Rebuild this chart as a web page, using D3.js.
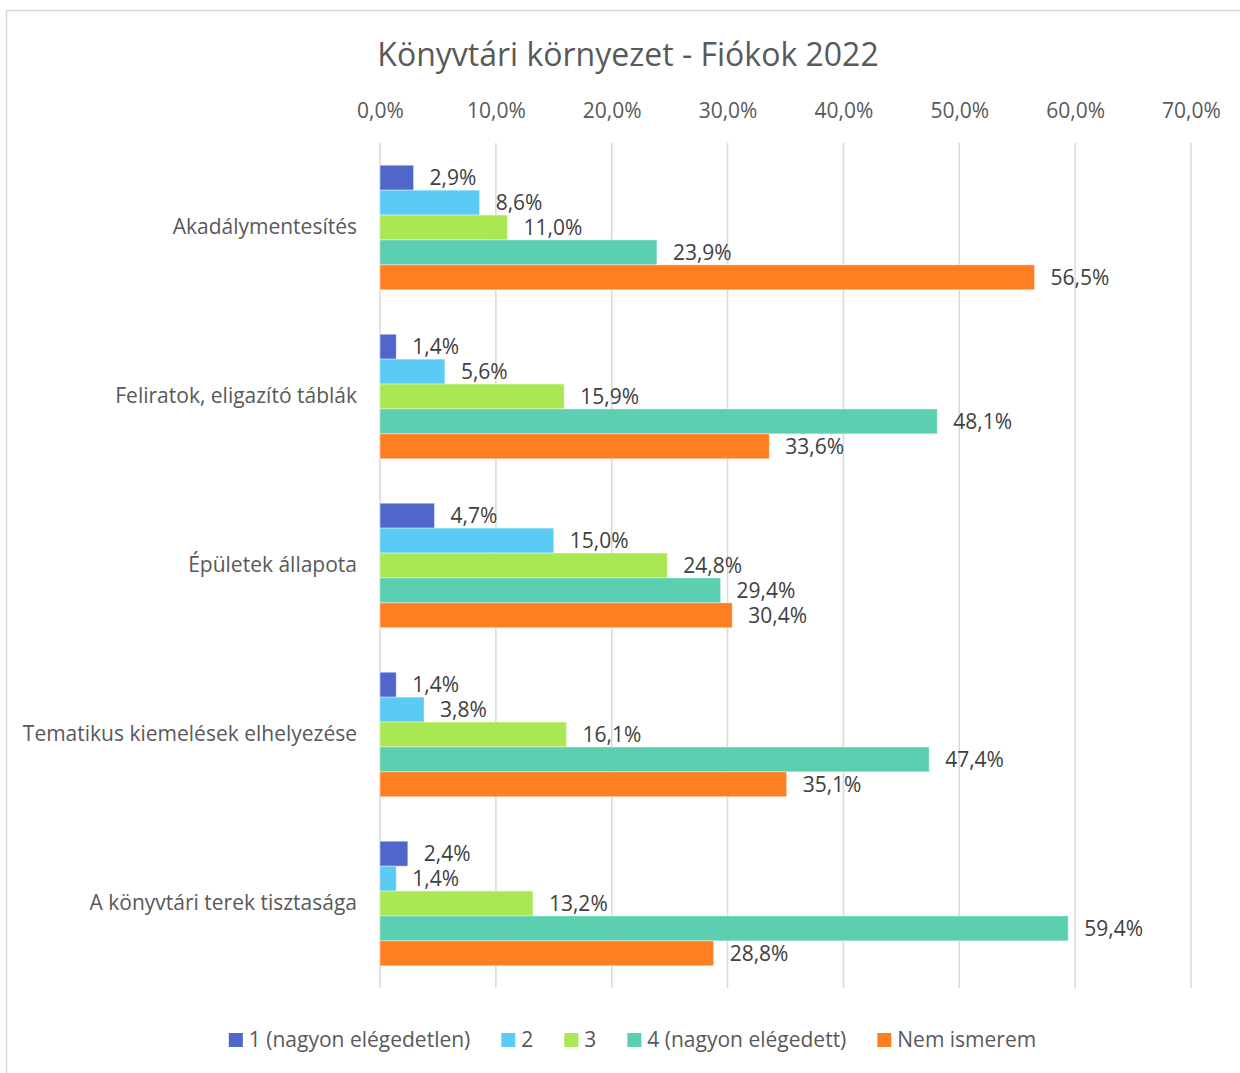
<!DOCTYPE html>
<html>
<head>
<meta charset="utf-8">
<script src="https://cdn.jsdelivr.net/npm/d3@7"></script>
<style>
  body { margin: 0; background: #fff; }
  text { font-family: "Open Sans", "Noto Sans", sans-serif; }
</style>
</head>
<body>
<div id="chart"></div>
<script>
"use strict";

// categories (top to bottom) and series
const categories = [
    "Akadálymentesítés",
    "Feliratok, eligazító táblák",
    "Épületek állapota",
    "Tematikus kiemelések elhelyezése",
    "A könyvtári terek tisztasága"
];
const seriesNames = ["1 (nagyon elégedetlen)", "2", "3", "4 (nagyon elégedett)", "Nem ismerem"];
const seriesColors = ["#4f67cb", "#5bcbf5", "#a9e853", "#5ccfb0", "#fe7f22"];

// values in percent, one array per series, in category order
const s1 = [2.9, 1.4, 4.7, 1.4, 2.4];
const s2 = [8.6, 5.6, 15.0, 3.8, 1.4];
const s3 = [11.0, 15.9, 24.8, 16.1, 13.2];
const s4 = [23.9, 48.1, 29.4, 47.4, 59.4];
const s5 = [56.5, 33.6, 30.4, 35.1, 28.8];
const seriesValues = [s1, s2, s3, s4, s5];

const xTicks = [0, 10, 20, 30, 40, 50, 60, 70];
const title = "Könyvtári környezet - Fiókok 2022";

const msm = {
    width: 1240,
    height: 1073,
    plotLeft: 380,
    plotRight: 1191,
    plotTop: 143,
    plotBottom: 988
};

const huLocale = d3.formatLocale({ decimal: ",", thousands: " ", grouping: [3], currency: ["", " Ft"] });
const fmt = (v) => huLocale.format(".1f")(v) + "%";

let svg = d3.select("#chart").append("svg")
    .attr("width", msm.width)
    .attr("height", msm.height);

// chart area border (cut off on the right and bottom)
svg.append("rect")
    .attr("x", 6.5).attr("y", 10.5)
    .attr("width", 1400).attr("height", 1400)
    .attr("fill", "none")
    .attr("stroke", "#d9d9d9")
    .attr("stroke-width", 1.5);

// title
svg.append("text")
    .attr("x", 628).attr("y", 66)
    .attr("text-anchor", "middle")
    .style("font-size", "32px")
    .style("fill", "#595959")
    .text(title);

// scales
let xScale = d3.scaleLinear()
    .domain([0, 70])
    .range([msm.plotLeft, msm.plotRight]);

let yScale = d3.scaleBand()
    .domain(categories)
    .range([msm.plotTop, msm.plotBottom])
    .paddingInner(0.263)
    .paddingOuter(0.1315);

let ySub = d3.scaleBand()
    .domain(d3.range(seriesNames.length))
    .range([0, yScale.bandwidth()]);

// gridlines
svg.append("g")
    .selectAll("line")
    .data(xTicks)
    .enter()
    .append("line")
    .attr("x1", (d) => xScale(d))
    .attr("x2", (d) => xScale(d))
    .attr("y1", msm.plotTop)
    .attr("y2", msm.plotBottom)
    .attr("stroke", "#d9d9d9")
    .attr("stroke-width", 1.5);

// top axis labels
let xAxis = d3.axisTop(xScale)
    .tickValues(xTicks)
    .tickSize(0)
    .tickPadding(0)
    .tickFormat(fmt);
let gx = svg.append("g")
    .attr("transform", "translate(0, 118)")
    .call(xAxis);
gx.select(".domain").remove();
gx.selectAll("text")
    .style("font-size", "21px")
    .style("font-family", "'Open Sans', sans-serif")
    .style("fill", "#595959");

// category labels
let yAxis = d3.axisLeft(yScale).tickSize(0).tickPadding(23);
let gy = svg.append("g")
    .attr("transform", "translate(" + msm.plotLeft + ", 0)")
    .call(yAxis);
gy.select(".domain").remove();
gy.selectAll("text")
    .style("font-size", "21px")
    .style("font-family", "'Open Sans', sans-serif")
    .style("fill", "#595959");

// bars
let rows = [];
categories.forEach((c, ci) => {
    seriesValues.forEach((vals, si) => {
        rows.push({ cat: c, s: si, v: vals[ci] });
    });
});

svg.append("g")
    .selectAll("rect")
    .data(rows)
    .enter()
    .append("rect")
    .attr("x", xScale(0))
    .attr("y", (d) => yScale(d.cat) + ySub(d.s))
    .attr("width", (d) => xScale(d.v) - xScale(0))
    .attr("height", ySub.bandwidth())
    .attr("fill", (d) => seriesColors[d.s])
    .attr("stroke", "#ffffff")
    .attr("stroke-opacity", 0.5)
    .attr("stroke-width", 0.8);

// value labels
svg.append("g")
    .selectAll("text")
    .data(rows)
    .enter()
    .append("text")
    .attr("x", (d) => xScale(d.v) + 16)
    .attr("y", (d) => yScale(d.cat) + ySub(d.s) + ySub.bandwidth() / 2)
    .attr("dy", "0.35em")
    .style("font-size", "21px")
    .style("fill", "#404040")
    .text((d) => fmt(d.v));

// legend
let legend = svg.append("g");
let items = legend.selectAll("g")
    .data(seriesNames)
    .enter()
    .append("g");
items.append("rect")
    .attr("width", 14).attr("height", 14)
    .attr("y", -7)
    .attr("fill", (d, i) => seriesColors[i]);
items.append("text")
    .attr("x", 20)
    .attr("dy", "0.35em")
    .style("font-size", "21px")
    .style("fill", "#595959")
    .text((d) => d);

let offsets = [];
let pos = 0;
items.each(function () {
    offsets.push(pos);
    let w = d3.select(this).select("text").node().getComputedTextLength();
    pos += 20 + w + 31;
});
let total = pos - 31;
items.attr("transform", (d, i) => "translate(" + offsets[i] + ", 0)");
legend.attr("transform", "translate(" + (632.5 - total / 2) + ", 1040)");
</script>
</body>
</html>
